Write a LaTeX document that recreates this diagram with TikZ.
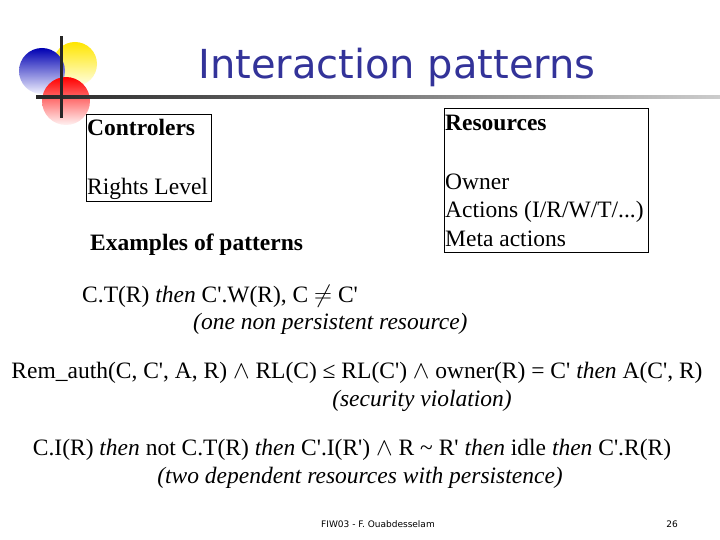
\documentclass[tikz,border=0pt]{standalone}
\usepackage{fontspec}
\setmainfont{Liberation Serif}[Ligatures=TeXOff]
\newfontfamily\titlefont{DejaVu Sans}
\newfontfamily\footfont{DejaVu Sans}
\usetikzlibrary{shadings}
\definecolor{ttl}{RGB}{51,51,153}
\def\p{'}
\begin{document}
\begin{tikzpicture}[x=1pt,y=-1pt,
  txt/.style={inner sep=0pt,anchor=base west,font=\fontsize{23.5}{28}\selectfont},
  ctr/.style={inner sep=0pt,anchor=base,font=\fontsize{23.5}{28}\selectfont}]
\useasboundingbox (0,0) rectangle (720,540);
\fill[white] (0,0) rectangle (720,540);
% logo
\shade[top color=yellow!80!orange,bottom color=yellow!10] (75,64) circle (22);
\shade[top color=blue!70!black,bottom color=blue!5] (42,71) circle (23);
\shade[top color=red,bottom color=red!5] (66,101) circle (24);
\shade[left color=black!85,right color=black!20] (36,95.5) rectangle (720,98.5);
\fill[black!85] (59.5,36) rectangle (62.5,118);
\node[inner sep=0pt,anchor=base,text=ttl,font=\titlefont\fontsize{40}{46}\selectfont] (title) at (397,79) {Interaction patterns};
% boxes
\draw (86,114) rectangle (211,201);
\draw (444,108) rectangle (648,252);
\node[txt] (c1) at (87,136) {\textbf{Controlers}};
\node[txt] (c2) at (87,195) {Rights Level};
\node[txt] (r1) at (445,131) {\textbf{Resources}};
\node[txt] (r2) at (445,190) {Owner};
\node[txt] (r3) at (445,218) {Actions (I/R/W/T/...)};
\node[txt] (r4) at (445,246) {Meta actions};
\node[txt] (ex) at (90,251) {\textbf{Examples of patterns}};
\node[txt] (l1) at (82,302) {C.T(R) \textit{then} C\p.W(R), C $\neq$ C\p};
\node[txt] (l2) at (193,329) {\textit{(one non persistent resource)}};
\node[ctr] (l3) at (357,378) {Rem\_auth(C, C\p, A, R) $\wedge$ RL(C) ≤ RL(C\p) $\wedge$ owner(R) = C\p{} \textit{then} A(C\p, R)};
\node[ctr] (l4) at (422,406) {\textit{(security violation)}};
\node[ctr] (l5) at (352,455) {C.I(R) \textit{then} not C.T(R) \textit{then} C\p.I(R\p) $\wedge$ R \symbol{126} R\p{} \textit{then} idle \textit{then} C\p.R(R)};
\node[ctr] (l6) at (360,483) {\textit{(two dependent resources with persistence)}};
\node[inner sep=0pt,anchor=base,font=\footfont\fontsize{9}{11}\selectfont] (f1) at (378,527) {FIW03 - F. Ouabdesselam};
\node[inner sep=0pt,anchor=base,font=\footfont\fontsize{9}{11}\selectfont] (f2) at (672,527) {26};
\end{tikzpicture}
\end{document}
